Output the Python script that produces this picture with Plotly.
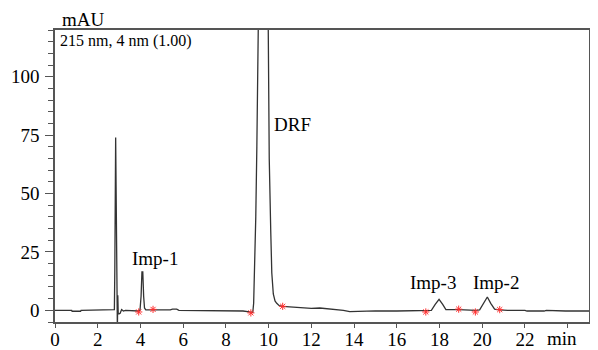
import plotly.graph_objects as go

# Chromatogram trace (time in min, absorbance in mAU)
time_min = [0.0, 0.5, 0.78, 0.8, 1.2, 1.22, 2.0, 2.7, 2.78, 2.80, 2.82, 2.84, 2.86, 2.88, 2.90, 2.92,
            2.94, 2.96, 3.0, 3.05, 3.12, 3.2, 3.3, 3.6, 3.9, 3.98, 4.03, 4.07, 4.11, 4.15, 4.19,
            4.25, 4.6, 5.0, 5.4, 5.5, 5.7, 5.8, 6.5, 6.6, 7.2, 7.3, 8.0, 8.8, 9.1, 9.2, 9.26,
            9.30, 9.34, 9.40, 9.45, 9.50, 9.53, 9.75, 9.98, 10.0, 10.03, 10.1, 10.15, 10.22, 10.3,
            10.38, 10.5, 10.65, 11.0, 11.5, 12.0, 12.4, 12.8, 13.5, 13.8, 14.5, 15.0, 16.0, 17.0,
            17.4, 17.62, 17.8, 17.98, 18.15, 18.3, 18.9, 19.3, 19.7, 19.88, 20.05, 20.24, 20.4,
            20.58, 20.8, 21.2, 22.0, 22.1, 22.9, 23.0, 23.9, 25.0]
absorbance = [0.0, 0.0, 0.0, -0.4, -0.4, 0.0, 0.1, 0.1, 0.3, 17.0, 53.0, 74.0, 53.0, 17.0, 2.0, -8.0,
              6.5, -1.5, -1.5, -1.3, 0.3, -0.3, 0.0, 0.0, -0.3, 0.1, 6.0, 16.4, 16.4, 6.0, 1.0,
              0.2, 0.2, 0.0, 0.2, 0.5, 0.5, 0.0, 0.0, -0.3, -0.3, 0.0, -0.2, -0.3, -0.7, -0.9, -0.8,
              3.0, 14.0, 40.0, 70.0, 110.0, 125.0, 300.0, 125.0, 100.0, 65.0, 34.0, 16.0, 7.0, 4.0,
              3.0, 2.0, 1.7, 1.5, 1.1, 0.8, 1.0, 0.7, 0.0, -0.6, -0.3, -0.2, -0.3, -0.2,
              -0.3, 0.0, 2.5, 4.7, 2.5, 0.3, 0.3, 0.0, 0.0, 0.2, 3.0, 5.7, 3.0,
              0.5, 0.2, 0.0, 0.0, -0.3, -0.3, 0.0, -0.3, -0.3]

# Integration markers (red asterisks)
mark_time = [3.92, 4.59, 9.17, 10.66, 17.36, 18.9, 19.68, 20.82]
mark_abs = [-0.7, 0.4, -1.1, 1.7, -0.7, 0.5, -0.7, 0.3]

# Peak labels
peak_names = ["Imp-1", "DRF", "Imp-3", "Imp-2"]
peak_label_x = [4.70, 11.1, 17.7, 20.63]
peak_label_y = [22.0, 79.7, 11.8, 11.8]

x_tickvals = [0, 2, 4, 6, 8, 10, 12, 14, 16, 18, 20, 22, 24]
x_ticktext = ["0", "2", "4", "6", "8", "10", "12", "14", "16", "18", "20", "22", ""]
y_tickvals = [0, 25, 50, 75, 100]

FONT = "Liberation Serif"

fig = go.Figure()
fig.add_trace(go.Scatter(x=time_min, y=absorbance, mode="lines",
                         line=dict(color="#333333", width=1.3), hoverinfo="skip"))
fig.add_trace(go.Scatter(x=mark_time, y=mark_abs, mode="markers",
                         marker=dict(symbol="asterisk-open", size=6, color="#ff3030",
                                     line=dict(color="#ff3030", width=1)),
                         cliponaxis=False, hoverinfo="skip"))

for name, lx, ly in zip(peak_names, peak_label_x, peak_label_y):
    fig.add_annotation(x=lx, y=ly, text=name, showarrow=False,
                       font=dict(family=FONT, size=19, color="black"))

fig.add_annotation(x=0.16, y=115.2, text="215 nm, 4 nm (1.00)", showarrow=False,
                   xanchor="left", font=dict(family=FONT, size=16, color="black"))
fig.add_annotation(xref="paper", yref="paper", x=0.01, y=1.0, yanchor="bottom", yshift=-2,
                   text="mAU", showarrow=False,
                   font=dict(family=FONT, size=19, color="black"))
fig.add_annotation(xref="paper", yref="paper", x=0.982, y=0.0, yanchor="top", yshift=-4,
                   text="min", showarrow=False,
                   font=dict(family=FONT, size=19, color="black"))

# The page places the figure 8 px in from the top-left corner of the window
fig.update_layout(
    template="none",
    width=590, height=342,
    margin=dict(l=47, r=9, t=22, b=28, autoexpand=False),
    paper_bgcolor="white", plot_bgcolor="white",
    showlegend=False,
    font=dict(family=FONT, size=19, color="black"),
)
fig.update_xaxes(range=[0, 25], tickvals=x_tickvals, ticktext=x_ticktext, automargin=False,
                 ticks="outside", ticklen=4, tickcolor="#555555", tickwidth=1.2,
                 ticklabelstandoff=-5,
                 showline=True, linecolor="#555555", linewidth=1.6, mirror=True,
                 showgrid=False, zeroline=False,
                 tickfont=dict(family=FONT, size=19, color="black"))
fig.update_yaxes(range=[-5, 120], tickvals=y_tickvals, automargin=False,
                 ticks="outside", ticklen=8, tickcolor="#555555", tickwidth=1.2,
                 ticklabelstandoff=2,
                 minor=dict(dtick=5, tick0=0, ticks="outside", ticklen=5,
                            tickcolor="#555555", tickwidth=1.2, showgrid=False),
                 showline=True, linecolor="#555555", linewidth=1.6, mirror=True,
                 showgrid=False, zeroline=False,
                 tickfont=dict(family=FONT, size=19, color="black"))

fig.write_html("out.html")
